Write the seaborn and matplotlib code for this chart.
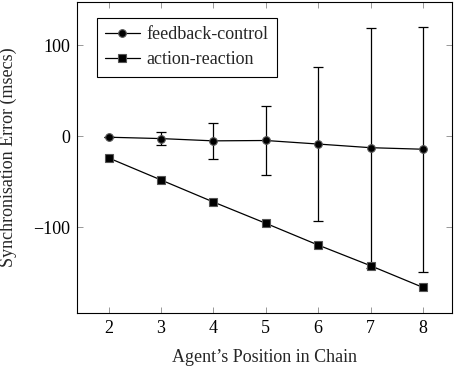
import pandas as pd
import seaborn as sns
import matplotlib.pyplot as plt

positions = [2, 3, 4, 5, 6, 7, 8]
feedback_mean = [-1, -2.5, -5, -4.6, -8.5, -12.5, -14.2]
feedback_err = [0, 7.5, 20, 38, 84.6, 132, 134.6]
action_mean = [-23.8, -48, -72.2, -95.6, -119.5, -142.2, -166]

if __name__ == "__main__":
    df = pd.DataFrame({
        "pos": positions * 2,
        "err": feedback_mean + action_mean,
        "method": ["feedback-control"] * 7 + ["action-reaction"] * 7,
    })

    sns.set_style("ticks")
    plt.rcParams["font.family"] = ["Liberation Serif", "DejaVu Serif"]

    fig = plt.figure(figsize=(4.56, 3.68), dpi=100)
    ax = fig.add_axes([0.1695, 0.1486, 0.8211, 0.846])

    ax.errorbar(positions, feedback_mean, yerr=feedback_err, fmt="none",
                ecolor="black", elinewidth=0.9, capsize=3.5, capthick=0.9, zorder=2)
    sns.lineplot(data=df, x="pos", y="err", hue="method", style="method",
                 markers={"feedback-control": "o", "action-reaction": "s"},
                 dashes=False, palette={"feedback-control": "black", "action-reaction": "black"},
                 markersize=5.5, markeredgecolor="#555555", markeredgewidth=0.8,
                 linewidth=0.9, ax=ax, zorder=3)

    ax.set_xlim(1.4, 8.55)
    ax.set_ylim(-194.5, 147.6)
    ax.set_xticks(positions)
    ax.set_yticks([-100, 0, 100])
    ax.tick_params(direction="in", top=True, right=True, length=4, width=0.6,
                   color="#888888", labelsize=13, labelcolor="black", pad=5)
    for s in ax.spines.values():
        s.set_visible(True)
        s.set_color("black")
        s.set_linewidth(0.8)

    ax.set_xlabel("Agent\u2019s Position in Chain", fontsize=13)
    ax.set_ylabel("Synchronisation Error (msecs)", fontsize=13)
    ax.xaxis.set_label_coords(0.5, -0.115)
    ax.yaxis.set_label_coords(-0.16, 0.5)

    leg = ax.legend(loc="upper left", bbox_to_anchor=(0.053, 0.948), borderaxespad=0,
                    fontsize=13, fancybox=False, edgecolor="black", framealpha=1,
                    handlelength=1.9, borderpad=0.45, labelspacing=0.45, handletextpad=0.4)
    leg.get_frame().set_linewidth(0.8)

    plt.savefig("out.png", dpi=100)
